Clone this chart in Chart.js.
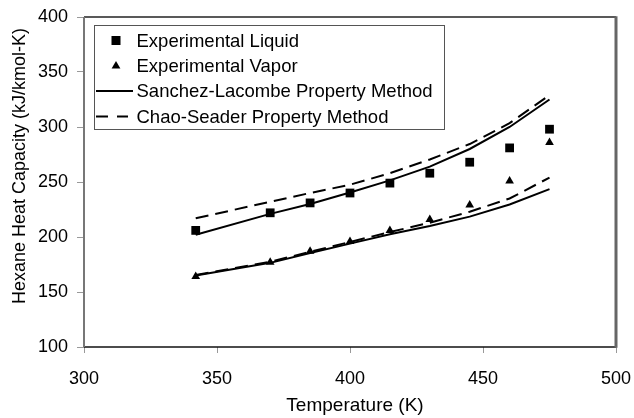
<!DOCTYPE html>
<html>
<head>
<meta charset="utf-8">
<script src="https://cdn.jsdelivr.net/npm/chart.js@4/dist/chart.umd.min.js"></script>
<style>
  html, body { margin: 0; padding: 0; background: #fff; }
  #wrap { width: 634px; height: 418px; }
</style>
</head>
<body>
<div id="wrap"><canvas id="c" width="634" height="418"></canvas></div>
<script>
// Temperatures (K) at which hexane heat capacity is reported
const temperatures = [342, 370, 385, 400, 415, 430, 445, 460, 475];

// Experimental heat capacity (kJ/kmol-K)
const expLiquid = [206, 222, 231, 240, 249, 258, 268, 281, 298];
const expVapor  = [164, 177, 187, 196, 206, 216, 229, 251, 286];

// Sanchez-Lacombe property method predictions
const slLiquid = [202, 221, 230, 240.5, 251.5, 264, 280, 300, 325];
const slVapor  = [165, 176.5, 185.5, 194, 202.5, 210, 218.5, 229.5, 243.5];

// Chao-Seader property method predictions
const csLiquid = [217, 232, 240, 247.5, 258, 270.5, 284.5, 303.5, 329];
const csVapor  = [165.5, 177.5, 186.5, 195.5, 204.5, 213, 223, 235, 254];

const xTicks = [300, 350, 400, 450, 500];
const yTicks = [100, 150, 200, 250, 300, 350, 400];

const xTitle = 'Temperature (K)';
const yTitle = 'Hexane Heat Capacity (kJ/kmol-K)';

const legendLabels = [
  'Experimental Liquid',
  'Experimental Vapor',
  'Sanchez-Lacombe Property Method',
  'Chao-Seader Property Method'
];

const FONT = '"Liberation Sans", Arial, sans-serif';
const DASH = [13, 7];

const pts = (ys) => temperatures.map((t, i) => ({ x: t, y: ys[i] }));

function lineSet(label, ys, dashed) {
  return {
    label, data: pts(ys), showLine: true, borderColor: '#000',
    borderWidth: 2, borderDash: dashed ? DASH : [], pointRadius: 0,
    fill: false, tension: 0, order: 2
  };
}

// Frame around the plot area, axis titles and the boxed legend
const decor = {
  id: 'decor',
  afterDraw(chart) {
    const { ctx, chartArea: a } = chart;
    ctx.save();
    // plot frame
    ctx.lineCap = 'butt';
    ctx.strokeStyle = '#222'; ctx.lineWidth = 1.5;
    ctx.beginPath(); ctx.moveTo(a.left, a.top); ctx.lineTo(a.right, a.top); ctx.stroke();
    ctx.strokeStyle = '#111'; ctx.lineWidth = 1.5;
    ctx.beginPath(); ctx.moveTo(a.left, a.bottom); ctx.lineTo(a.right, a.bottom); ctx.stroke();
    ctx.strokeStyle = '#666'; ctx.lineWidth = 3;
    ctx.beginPath(); ctx.moveTo(a.right, a.top - 0.75); ctx.lineTo(a.right, a.bottom + 0.75); ctx.stroke();
    ctx.strokeStyle = '#777'; ctx.lineWidth = 2;
    ctx.beginPath(); ctx.moveTo(a.left, a.top); ctx.lineTo(a.left, a.bottom); ctx.stroke();

    // axis titles
    ctx.fillStyle = '#000';
    ctx.font = '19px ' + FONT;
    ctx.textAlign = 'center'; ctx.textBaseline = 'middle';
    ctx.fillText(xTitle, (a.left + a.right) / 2 + 5, 406);
    ctx.font = '18px ' + FONT;
    ctx.save();
    ctx.translate(20, 166);
    ctx.rotate(-Math.PI / 2);
    ctx.fillText(yTitle, 0, 0);
    ctx.restore();

    // legend box
    const bx = 94, by = 25, bw = 350, bh = 104;
    ctx.fillStyle = '#fff';
    ctx.fillRect(bx, by, bw, bh);
    ctx.strokeStyle = '#555'; ctx.lineWidth = 1;
    ctx.strokeRect(bx + 0.5, by + 0.5, bw, bh);

    const rows = [40.5, 66, 91, 116.5];
    const mx = 116, lx0 = 96, lx1 = 133, tx = 136.5;
    ctx.fillStyle = '#000';
    // square marker
    ctx.fillRect(mx - 4.5, rows[0] - 4.5, 9, 9);
    // triangle marker
    ctx.beginPath();
    ctx.moveTo(mx, rows[1] - 5);
    ctx.lineTo(mx + 4.4, rows[1] + 2.6);
    ctx.lineTo(mx - 4.4, rows[1] + 2.6);
    ctx.closePath(); ctx.fill();
    // solid and dashed samples
    ctx.strokeStyle = '#000'; ctx.lineWidth = 2;
    ctx.beginPath(); ctx.moveTo(lx0, rows[2]); ctx.lineTo(lx1, rows[2]); ctx.stroke();
    ctx.setLineDash([12, 9]);
    ctx.beginPath(); ctx.moveTo(lx0, rows[3]); ctx.lineTo(lx1 - 5, rows[3]); ctx.stroke();
    ctx.setLineDash([]);

    ctx.font = '18.5px ' + FONT;
    ctx.textAlign = 'left'; ctx.textBaseline = 'middle';
    legendLabels.forEach((t, i) => ctx.fillText(t, tx, rows[i] + 1));
    ctx.restore();
  }
};

new Chart(document.getElementById('c'), {
  type: 'scatter',
  data: {
    datasets: [
      {
        label: legendLabels[0], data: pts(expLiquid), pointStyle: 'rect',
        pointRadius: 6.2, pointHoverRadius: 6.2, backgroundColor: '#000',
        borderColor: '#000', borderWidth: 0, showLine: false, order: 1
      },
      {
        label: legendLabels[1], data: pts(expVapor), pointStyle: 'triangle',
        pointRadius: 5, pointHoverRadius: 5, backgroundColor: '#000',
        borderColor: '#000', borderWidth: 0, showLine: false, order: 1
      },
      lineSet(legendLabels[2], slLiquid, false),
      lineSet(legendLabels[2], slVapor, false),
      lineSet(legendLabels[3], csLiquid, true),
      lineSet(legendLabels[3], csVapor, true)
    ]
  },
  options: {
    responsive: false,
    animation: false,
    events: [],
    layout: { padding: { top: 17, right: 18, left: 0, bottom: 0 } },
    plugins: { legend: { display: false }, tooltip: { enabled: false } },
    scales: {
      x: {
        type: 'linear', min: 300, max: 500,
        afterBuildTicks: (s) => { s.ticks = xTicks.map(v => ({ value: v })); },
        afterFit: (s) => { s.height = 71; s.paddingLeft = 0; s.paddingRight = 0; },
        border: { display: false },
        grid: { display: true, drawOnChartArea: false, drawTicks: true, tickLength: 6, color: '#999', lineWidth: 1 },
        ticks: { color: '#000', font: { family: FONT, size: 18 }, padding: 15, maxRotation: 0 }
      },
      y: {
        type: 'linear', min: 100, max: 400,
        afterBuildTicks: (s) => { s.ticks = yTicks.map(v => ({ value: v })); },
        afterFit: (s) => { s.width = 84; s.paddingTop = 0; s.paddingBottom = 0; },
        border: { display: false },
        grid: { display: true, drawOnChartArea: false, drawTicks: true, tickLength: 7, color: '#999', lineWidth: 1 },
        ticks: { color: '#000', font: { family: FONT, size: 18 }, padding: 9 }
      }
    }
  },
  plugins: [decor]
});
</script>
</body>
</html>
